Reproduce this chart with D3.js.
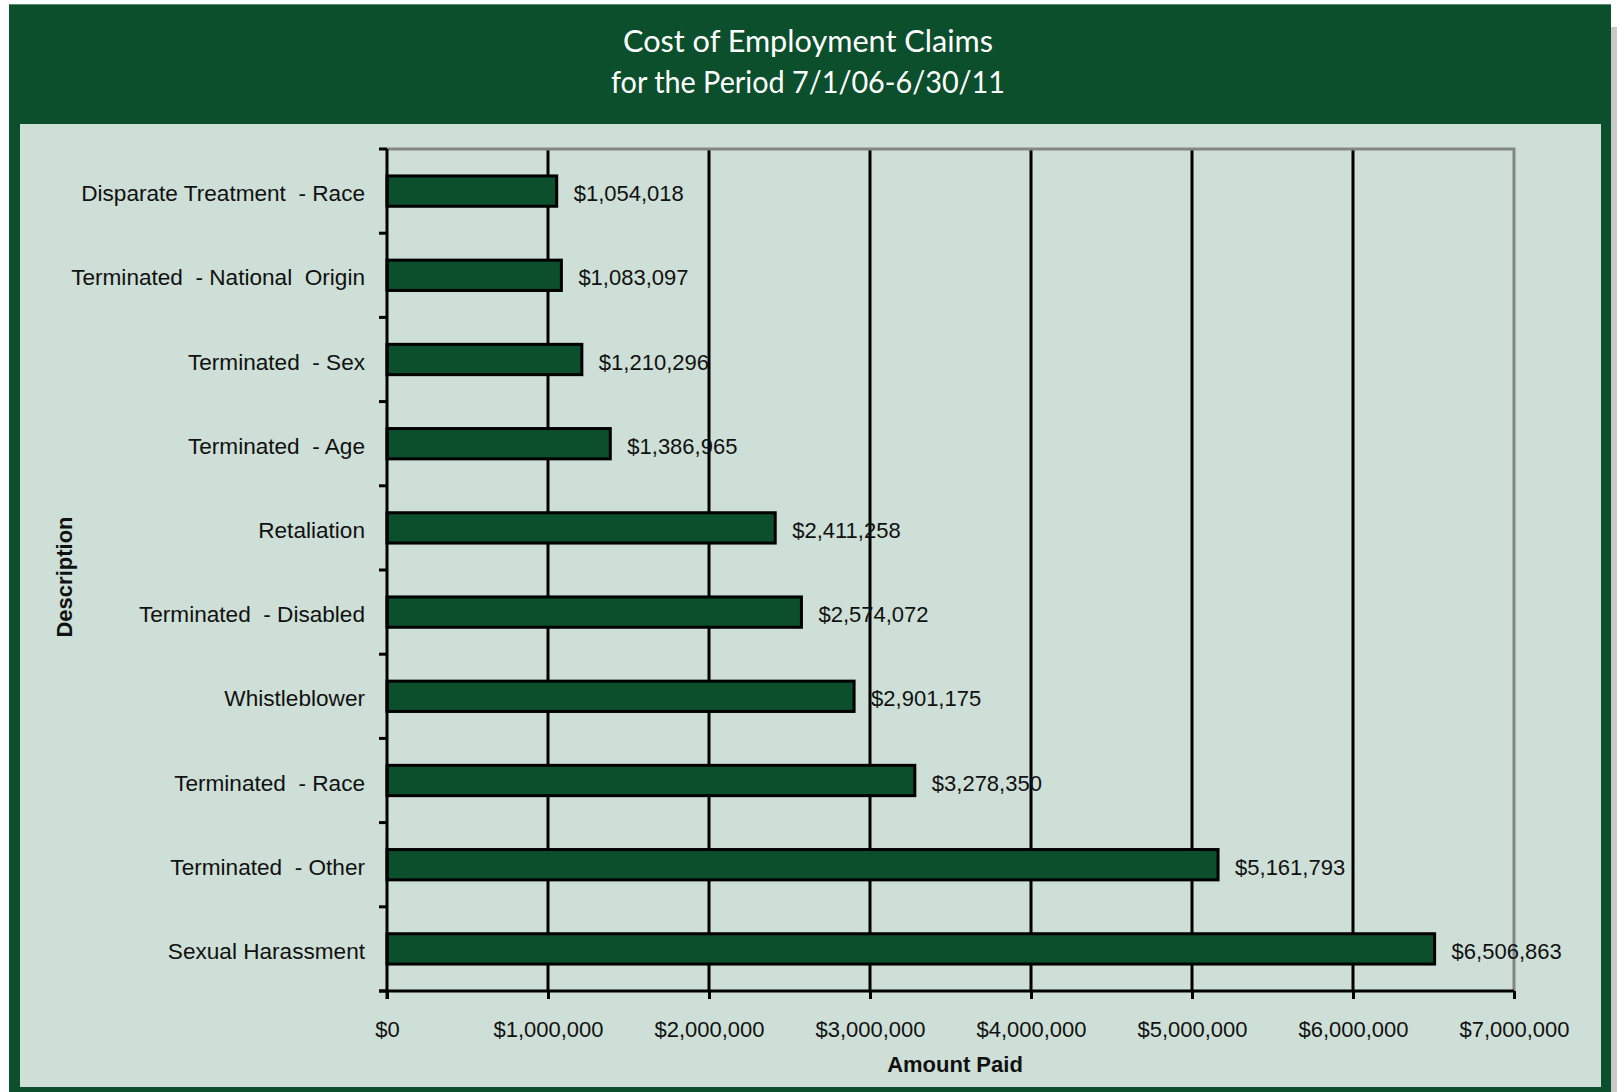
<!DOCTYPE html>
<html>
<head>
<meta charset="utf-8">
<script src="https://cdn.jsdelivr.net/npm/d3@7"></script>
<style>
  html, body { margin: 0; padding: 0; background: #ffffff; }
  svg { display: block; }
  text { white-space: pre; }
</style>
</head>
<body>
<script>
// Claim categories, top to bottom, and the total amount paid for each
const categories = [
  "Disparate Treatment  - Race",
  "Terminated  - National  Origin",
  "Terminated  - Sex",
  "Terminated  - Age",
  "Retaliation",
  "Terminated  - Disabled",
  "Whistleblower",
  "Terminated  - Race",
  "Terminated  - Other",
  "Sexual Harassment"
];
const amountPaid = [1054018, 1083097, 1210296, 1386965, 2411258, 2574072, 2901175, 3278350, 5161793, 6506863];
const xTicks = [0, 1000000, 2000000, 3000000, 4000000, 5000000, 6000000, 7000000];
const titleLines = ["Cost of Employment Claims", "for the Period 7/1/06-6/30/11"];
const xTitle = "Amount Paid";
const yTitle = "Description";

const W = 1617, H = 1092;
const dark = "#0c4f2c";
const panel = "#cddfd6";

const svg = d3.select("body").append("svg")
  .attr("width", W).attr("height", H);

// frame: shadow, dark green card, light chart panel
svg.append("rect").attr("x", 1611).attr("y", 27).attr("width", 6).attr("height", H - 27).attr("fill", "#c9c9c9");
svg.append("rect").attr("x", 9).attr("y", 4).attr("width", 1602).attr("height", H - 4).attr("fill", dark);
svg.append("line").attr("x1", 9).attr("x2", 1611).attr("y1", 4.5).attr("y2", 4.5).attr("stroke", "#5f8a72").attr("stroke-width", 1);
svg.append("rect").attr("x", 20).attr("y", 124).attr("width", 1581).attr("height", 963).attr("fill", panel);

// title (condensed to the card's narrow heading width)
const titleWidths = [370, 394];
svg.append("g").selectAll("text").data(titleLines).join("text")
  .attr("x", 808)
  .attr("y", (d, i) => 52 + i * 41)
  .attr("text-anchor", "middle")
  .attr("fill", "#ffffff")
  .attr("font-family", "Lato, 'Open Sans', sans-serif")
  .attr("font-size", 31)
  .attr("textLength", (d, i) => titleWidths[i])
  .attr("lengthAdjust", "spacingAndGlyphs")
  .text(d => d);

// plot area
const plot = { left: 387, right: 1514, top: 149, bottom: 991 };

const x = d3.scaleLinear()
  .domain([0, 7000000])
  .range([plot.left, plot.right]);

const y = d3.scaleBand()
  .domain(categories)
  .range([plot.top, plot.bottom])
  .paddingInner(0.64)
  .paddingOuter(0.32);

const font = "'Liberation Sans', Arial, sans-serif";

// vertical gridlines
svg.append("g").selectAll("line").data(xTicks.slice(1, -1)).join("line")
  .attr("x1", d => x(d)).attr("x2", d => x(d))
  .attr("y1", plot.top).attr("y2", plot.bottom)
  .attr("stroke", "#000").attr("stroke-width", 3);

// gray border on top and right
svg.append("path")
  .attr("d", `M${plot.left},${plot.top}H${plot.right}V${plot.bottom}`)
  .attr("fill", "none").attr("stroke", "#858585").attr("stroke-width", 3);

// bars
svg.append("g").selectAll("rect").data(amountPaid).join("rect")
  .attr("x", x(0))
  .attr("y", (d, i) => y(categories[i]))
  .attr("width", d => x(d) - x(0))
  .attr("height", y.bandwidth())
  .attr("fill", dark)
  .attr("stroke", "#000")
  .attr("stroke-width", 3);

// value labels
const fmt = d3.format("$,");
svg.append("g").selectAll("text").data(amountPaid).join("text")
  .attr("x", d => x(d) + 17)
  .attr("y", (d, i) => y(categories[i]) + y.bandwidth() / 2 + 10)
  .attr("font-family", font)
  .attr("font-size", 22)
  .attr("fill", "#111")
  .text(d => fmt(d));

// x axis
const xAxis = svg.append("g")
  .attr("transform", `translate(0,${plot.bottom})`)
  .call(d3.axisBottom(x).tickValues(xTicks).tickFormat(fmt).tickSize(8).tickSizeOuter(0).tickPadding(22));
xAxis.select(".domain").attr("stroke", "#000").attr("stroke-width", 3)
  .attr("d", `M${plot.left - 8},0H${plot.right}`);
xAxis.selectAll(".tick line").attr("stroke", "#000").attr("stroke-width", 3);
xAxis.selectAll(".tick text")
  .attr("font-family", font).attr("font-size", 22).attr("fill", "#111");

// y axis with ticks on category boundaries
const yAxis = svg.append("g")
  .attr("transform", `translate(${plot.left},0)`);
yAxis.append("line")
  .attr("x1", 0).attr("x2", 0)
  .attr("y1", plot.top).attr("y2", plot.bottom + 8)
  .attr("stroke", "#000").attr("stroke-width", 3);
const boundaries = categories.map(c => y(c) - y.step() * y.paddingInner() / 2).concat([plot.bottom]);
yAxis.selectAll("line.b").data(boundaries).join("line")
  .attr("class", "b")
  .attr("x1", -8).attr("x2", 0)
  .attr("y1", d => d).attr("y2", d => d)
  .attr("stroke", "#000").attr("stroke-width", 3);
yAxis.selectAll("text").data(categories).join("text")
  .attr("x", -22)
  .attr("y", d => y(d) + y.bandwidth() / 2 + 10)
  .attr("text-anchor", "end")
  .attr("font-family", font)
  .attr("font-size", 22.6)
  .attr("fill", "#111")
  .text(d => d);

// axis titles
svg.append("text")
  .attr("x", 955).attr("y", 1072)
  .attr("text-anchor", "middle")
  .attr("font-family", font).attr("font-size", 22).attr("font-weight", "bold")
  .attr("fill", "#111")
  .text(xTitle);

svg.append("text")
  .attr("transform", "translate(72,577) rotate(-90)")
  .attr("text-anchor", "middle")
  .attr("font-family", font).attr("font-size", 22).attr("font-weight", "bold")
  .attr("fill", "#111")
  .text(yTitle);
</script>
</body>
</html>
